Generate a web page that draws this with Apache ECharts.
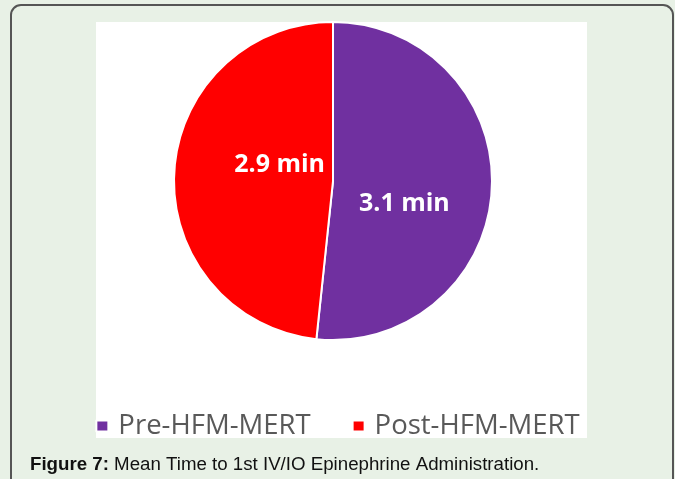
<!DOCTYPE html>
<html>
<head>
<meta charset="utf-8">
<script src="https://cdn.jsdelivr.net/npm/echarts@6/dist/echarts.min.js"></script>
<style>
  html, body { margin: 0; padding: 0; background: #e8f1e6; }
  #main { width: 675px; height: 479px; }
</style>
</head>
<body>
<div id="main"></div>
<script>
// data
var groups = ['Pre-HFM-MERT', 'Post-HFM-MERT']
var meanMinutes = [3.1, 2.9]
var sliceColors = ['#7030a0', '#ff0000']
var caption = 'Mean Time to 1st IV/IO Epinephrine Administration.'

// label nudges, so the texts sit where the original ones do
var labelOffsets = [[-11, 19], [29, -12]]

var mychart = echarts.init(document.getElementById('main'))
mychart.setOption({
  backgroundColor: '#e8f1e6',
  animation: false,
  color: sliceColors,
  graphic: [
    {
      type: 'rect',
      z: -10,
      shape: { x: 11, y: 5, width: 662, height: 490, r: 10 },
      style: { fill: '#e8f1e6', stroke: '#555', lineWidth: 2 }
    },
    {
      type: 'rect',
      z: -9,
      shape: { x: 96, y: 22, width: 491, height: 416 },
      style: { fill: '#ffffff' }
    }
  ],
  title: {
    left: 25,
    top: 450,
    text: '{b|Figure 7:} ' + caption,
    textStyle: {
      fontFamily: 'Liberation Sans',
      fontSize: 18.7,
      fontWeight: 'normal',
      color: '#111',
      rich: {
        b: { fontFamily: 'Liberation Sans', fontSize: 18.7, fontWeight: 'bold', color: '#111' }
      }
    }
  },
  legend: {
    left: 'center',
    top: 407,
    itemWidth: 12,
    itemHeight: 11,
    itemGap: 41,
    icon: 'rect',
    data: groups,
    textStyle: {
      fontFamily: 'Open Sans',
      fontSize: 27.5,
      color: '#595959',
      padding: [0, 0, 0, 5]
    }
  },
  series: [
    {
      type: 'pie',
      center: [333, 181],
      radius: 159,
      startAngle: 90,
      clockwise: true,
      itemStyle: { borderColor: '#fff', borderWidth: 2 },
      label: {
        show: true,
        position: 'inside',
        formatter: function (p) { return p.value + ' min' },
        fontFamily: 'Open Sans',
        fontWeight: 'bold',
        fontSize: 25,
        color: '#fff'
      },
      labelLine: { show: false },
      data: groups.map(function (g, i) {
        return { name: g, value: meanMinutes[i], label: { offset: labelOffsets[i] } }
      })
    }
  ]
})
</script>
</body>
</html>
